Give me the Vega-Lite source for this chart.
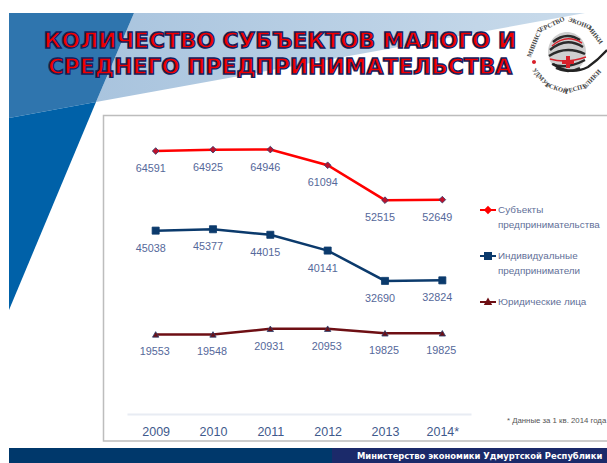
{"$schema":"https://vega.github.io/schema/vega-lite/v6.json","width":344,"height":285,"autosize":"none","padding":{"left":127,"top":129,"right":136,"bottom":49},"background":"white","config":{"view":{"stroke":null}},
"data":{"values":[
{"year":"2009","series":"Субъекты предпринимательства","value":64591},{"year":"2010","series":"Субъекты предпринимательства","value":64925},{"year":"2011","series":"Субъекты предпринимательства","value":64946},{"year":"2012","series":"Субъекты предпринимательства","value":61094},{"year":"2013","series":"Субъекты предпринимательства","value":52515},{"year":"2014*","series":"Субъекты предпринимательства","value":52649},
{"year":"2009","series":"Индивидуальные предприниматели","value":45038},{"year":"2010","series":"Индивидуальные предприниматели","value":45377},{"year":"2011","series":"Индивидуальные предприниматели","value":44015},{"year":"2012","series":"Индивидуальные предприниматели","value":40141},{"year":"2013","series":"Индивидуальные предприниматели","value":32690},{"year":"2014*","series":"Индивидуальные предприниматели","value":32824},
{"year":"2009","series":"Юридические лица","value":19553},{"year":"2010","series":"Юридические лица","value":19548},{"year":"2011","series":"Юридические лица","value":20931},{"year":"2012","series":"Юридические лица","value":20953},{"year":"2013","series":"Юридические лица","value":19825},{"year":"2014*","series":"Юридические лица","value":19825}]},
"layer":[
{"data":{"values":[{}]},"mark":{"type":"point","x":-127,"y":-129,"size":4,"shape":"M134 13 L585 13 L96 102 Z","filled":true,"opacity":1,"fill":{"gradient":"linear","x1":0,"x2":1,"y1":0,"y2":0,"stops":[{"offset":0,"color":"#a9c4de"},{"offset":1,"color":"#c9dbeb"}]}}},
{"data":{"values":[{}]},"mark":{"type":"point","x":-127,"y":-129,"size":4,"shape":"M9 13 L134 13 L96 102 L9 118 Z","filled":true,"opacity":1,"fill":"#2f75ae"}},
{"data":{"values":[{}]},"mark":{"type":"point","x":-127,"y":-129,"size":4,"shape":"M9 118 L96 102 L9 310 Z","filled":true,"opacity":1,"fill":"#0061a8"}},
{"data":{"values":[{}]},"mark":{"type":"point","x":-127,"y":-129,"size":4,"shape":"M103.5 115.5 L612 115.5 L612 441 L103.5 441 Z","filled":true,"opacity":1,"fill":"white","stroke":"#bdbdbd","strokeWidth":1.5}},
{"data":{"values":[{}]},"mark":{"type":"point","x":-127,"y":-129,"size":4,"shape":"M9 448 L332 448 L332 463 L9 463 Z","filled":true,"opacity":1,"fill":"#00386b"}},
{"data":{"values":[{}]},"mark":{"type":"point","x":-127,"y":-129,"size":4,"shape":"M332 448 L607 448 L607 463 L332 463 Z","filled":true,"opacity":1,"fill":"#1b2a6a"}},
{"data":{"values":[{}]},"mark":{"type":"point","x":-127,"y":-129,"size":4,"shape":"M548 52 A19 20 0 1 1 586 52 A19 20 0 1 1 548 52 Z","filled":true,"opacity":1,"fill":"#cfcfcf"}},
{"data":{"values":[{}]},"mark":{"type":"point","x":-127,"y":-129,"size":4,"shape":"M553 42 Q566 31 580 40 M550 50 Q566 36 583 47 M549 56 Q566 45 585 54 M552 64 Q566 70 585 60 M556 68 Q568 74 580 68","filled":false,"opacity":1,"stroke":"#2b2b2b","strokeWidth":2.4}},
{"data":{"values":[{}]},"mark":{"type":"point","x":-127,"y":-129,"size":4,"shape":"M552 46 Q566 33 582 43 M550 59 Q566 64 586 57","filled":false,"opacity":1,"stroke":"#d8202a","strokeWidth":1.5}},
{"data":{"values":[{}]},"mark":{"type":"point","x":-127,"y":-129,"size":4,"shape":"M553 64 Q570 76 588 67 Q598 60 607 50","filled":false,"opacity":1,"stroke":"#222222","strokeWidth":2.2}},
{"data":{"values":[{}]},"mark":{"type":"point","x":-127,"y":-129,"size":4,"shape":"M566 56 H570 V60 H574 V64 H570 V68 H566 V64 H562 V60 H566 Z M532 62 A2 2 0 1 1 536 62 A2 2 0 1 1 532 62 Z","filled":true,"opacity":1,"fill":"#d8202a"}},
{"data":{"values":[{}]},"mark":{"type":"text","x":440,"y":-73,"radius":35,"theta":-1.19,"angle":-68,"text":"МИНИСТ","font":"Liberation Serif","fontWeight":"bold","fontSize":6.5,"fill":"#444444"}},
{"data":{"values":[{}]},"mark":{"type":"text","x":440,"y":-73,"radius":35,"theta":-0.44,"angle":-25,"text":"ЕРСТВО","font":"Liberation Serif","fontWeight":"bold","fontSize":6.5,"fill":"#444444"}},
{"data":{"values":[{}]},"mark":{"type":"text","x":440,"y":-73,"radius":35,"theta":0.37,"angle":21,"text":"ЭКОНО","font":"Liberation Serif","fontWeight":"bold","fontSize":6.5,"fill":"#444444"}},
{"data":{"values":[{}]},"mark":{"type":"text","x":440,"y":-73,"radius":35,"theta":0.93,"angle":53,"text":"МИКИ","font":"Liberation Serif","fontWeight":"bold","fontSize":6.5,"fill":"#444444"}},
{"data":{"values":[{}]},"mark":{"type":"text","x":440,"y":-73,"radius":34,"theta":4.01,"angle":50,"text":"УДМУР","font":"Liberation Serif","fontWeight":"bold","fontSize":6.5,"fill":"#444444"}},
{"data":{"values":[{}]},"mark":{"type":"text","x":440,"y":-73,"radius":34,"theta":3.46,"angle":18,"text":"ТСКОЙ","font":"Liberation Serif","fontWeight":"bold","fontSize":6.5,"fill":"#444444"}},
{"data":{"values":[{}]},"mark":{"type":"text","x":440,"y":-73,"radius":34,"theta":2.88,"angle":-15,"text":"РЕСПУ","font":"Liberation Serif","fontWeight":"bold","fontSize":6.5,"fill":"#444444"}},
{"data":{"values":[{}]},"mark":{"type":"text","x":440,"y":-73,"radius":34,"theta":2.32,"angle":-47,"text":"БЛИКИ","font":"Liberation Serif","fontWeight":"bold","fontSize":6.5,"fill":"#444444"}},
{"data":{"values":[{}]},"mark":{"type":"text","x":153,"y":-88,"text":"КОЛИЧЕСТВО СУБЪЕКТОВ МАЛОГО И","font":"DejaVu Sans","fontWeight":"bold","fontSize":21.8,"fill":"#f00000","stroke":"#14205c","strokeWidth":1.4}},
{"data":{"values":[{}]},"mark":{"type":"text","x":153,"y":-62,"text":"СРЕДНЕГО ПРЕДПРИНИМАТЕЛЬСТВА","font":"DejaVu Sans","fontWeight":"bold","fontSize":21.8,"fill":"#f00000","stroke":"#14205c","strokeWidth":1.4}},
{"data":{"values":[{}]},"mark":{"type":"text","x":380,"y":292,"align":"left","text":"* Данные за 1 кв. 2014 года","font":"Liberation Sans","fontSize":7.8,"fill":"#555555"}},
{"data":{"values":[{}]},"mark":{"type":"text","x":230,"y":327,"align":"left","text":"Министерство экономики Удмуртской Республики","font":"DejaVu Sans","fontWeight":"bold","fontSize":8.4,"fill":"white"}},
{"mark":{"type":"line","strokeWidth":2.5},"encoding":{
"x":{"field":"year","type":"ordinal","sort":null,"scale":{"type":"point","padding":0.5},"axis":{"title":null,"labelAngle":0,"ticks":false,"grid":false,"zindex":1,"domainColor":"#e8ecf3","domainWidth":2,"labelColor":"#3f5a8c","labelFont":"Liberation Sans","labelFontSize":12.5,"labelPadding":11}},
"y":{"field":"value","type":"quantitative","scale":{"domain":[0,70000]},"axis":null},
"color":{"field":"series","type":"nominal","sort":null,"scale":{"domain":["Субъекты предпринимательства","Индивидуальные предприниматели","Юридические лица"],"range":["#ff0000","#0b3a6c","#6e0f14"]},"legend":{"title":null,"orient":"none","legendX":355,"legendY":75,"symbolSize":100,"labelFont":"Liberation Sans","labelFontSize":9.9,"labelColor":"#5f6f98","labelLimit":200,"labelOffset":4,"rowPadding":19,"labelExpr":"indexof(datum.label,'Юрид')==0 ? datum.label : split(datum.label,' ')","encode":{"labels":{"update":{"lineHeight":{"value":15}}},"symbols":{"update":{"shape":{"signal":"indexof(datum.value,'Субъ')==0 ? 'M-1.6 0 L1.6 0 M0 -0.55 L0.55 0 L0 0.55 L-0.55 0 Z' : indexof(datum.value,'Инд')==0 ? 'M-1.6 0 L1.6 0 M-0.6 -0.6 L0.6 -0.6 L0.6 0.6 L-0.6 0.6 Z' : 'M-1.6 0 L1.6 0 M-0.5 0.4 L0 -0.5 L0.5 0.4 Z'"},"strokeWidth":{"value":2},"fill":{"signal":"scale('color',datum.value)"},"stroke":{"signal":"scale('color',datum.value)"},"opacity":{"value":1}}}}}}
}},
{"transform":[{"filter":"indexof(datum.series,'Субъ')==0"}],"mark":{"type":"point","shape":"diamond","filled":true,"opacity":1,"size":45,"fill":"#c0102a","stroke":"#2a3f6e","strokeWidth":0.8},"encoding":{
"x":{"field":"year","type":"ordinal","sort":null},
"y":{"field":"value","type":"quantitative"}
}},
{"transform":[{"filter":"indexof(datum.series,'Инд')==0"}],"mark":{"type":"point","shape":"square","filled":true,"opacity":1,"size":50,"fill":"#0b3a6c","stroke":"#0b3a6c","strokeWidth":0.8},"encoding":{
"x":{"field":"year","type":"ordinal","sort":null},
"y":{"field":"value","type":"quantitative"}
}},
{"transform":[{"filter":"indexof(datum.series,'Юрид')==0"}],"mark":{"type":"point","shape":"triangle-up","filled":true,"opacity":1,"size":40,"fill":"#6e0f14","stroke":"#2a3f6e","strokeWidth":0.8},"encoding":{
"x":{"field":"year","type":"ordinal","sort":null},
"y":{"field":"value","type":"quantitative"}
}},
{"transform":[{"filter":"indexof(datum.series,'Юрид')!=0"}],"mark":{"type":"text","dy":18,"dx":-5,"font":"Liberation Sans","fontSize":10.8,"fill":"#55689a"},"encoding":{
"x":{"field":"year","type":"ordinal","sort":null},
"y":{"field":"value","type":"quantitative"},
"text":{"field":"value","type":"quantitative","format":"d"}
}},
{"transform":[{"filter":"indexof(datum.series,'Юрид')==0"}],"mark":{"type":"text","dy":18,"dx":-1,"font":"Liberation Sans","fontSize":10.8,"fill":"#55689a"},"encoding":{
"x":{"field":"year","type":"ordinal","sort":null},
"y":{"field":"value","type":"quantitative"},
"text":{"field":"value","type":"quantitative","format":"d"}
}}
]}
